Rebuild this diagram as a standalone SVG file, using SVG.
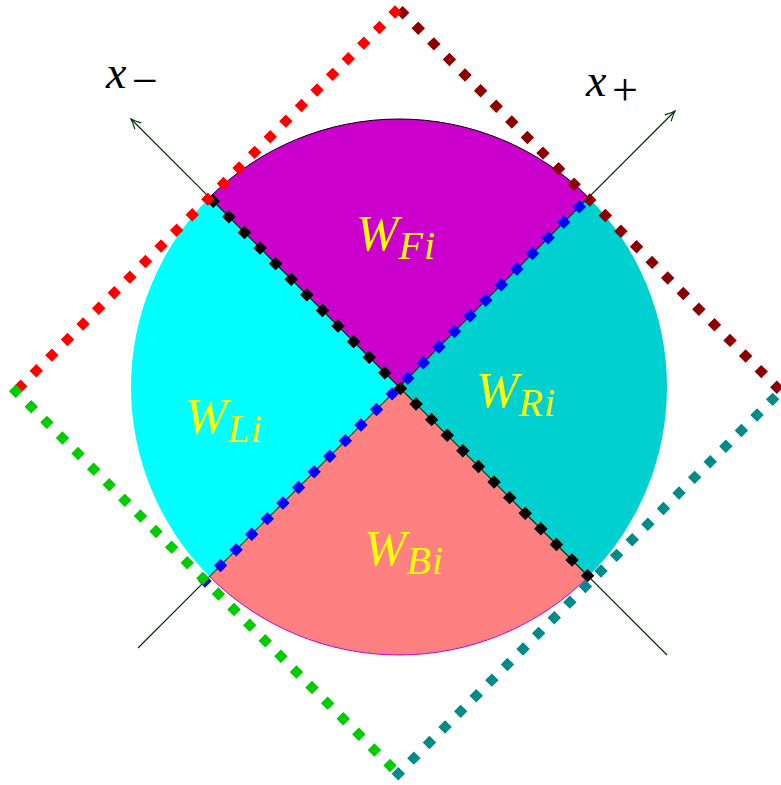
<svg xmlns="http://www.w3.org/2000/svg" width="781" height="785" viewBox="0 0 781 785">
<style>
.lbl{font-family:"Liberation Serif","Times New Roman",serif;font-style:italic;fill:#FFFF00;font-size:51px}
.sub{font-size:40px;letter-spacing:1px}
.ax{font-family:"Liberation Serif","Times New Roman",serif;fill:#000;font-size:46px}
.axis{stroke:#003300;stroke-width:1.2;fill:none;marker-end:url(#arr)}
.dl{fill:none;stroke-width:9.5;stroke-dasharray:9.5 12.56}
</style>
<defs>
<marker id="arr" viewBox="-12 -6 14 12" refX="0" refY="0" markerWidth="14" markerHeight="12" markerUnits="userSpaceOnUse" orient="auto">
<path d="M-10 -4.5 Q-4 -1.2 0 0 Q-4 1.2 -10 4.5" fill="none" stroke="#003300" stroke-width="1.1"/>
</marker>
</defs>
<rect width="781" height="785" fill="#fff"/>
<g id="wedges">
<g id="WF"><path d="M399 387 L209.5 197.5 A268 268 0 0 1 588.5 197.5 Z" fill="#CC00CC"/><path d="M209.5 197.5 A268 268 0 0 1 588.5 197.5" fill="none" stroke="#000" stroke-width="1"/></g>
<g id="WR"><path d="M399 387 L588.5 197.5 A268 268 0 0 1 588.5 576.5 Z" fill="#00D0D0"/></g>
<g id="WB"><path d="M399 387 L588.5 576.5 A268 268 0 0 1 209.5 576.5 Z" fill="#FF8080"/><path d="M588.5 576.5 A268 268 0 0 1 209.5 576.5" fill="none" stroke="#CC00CC" stroke-width="1"/></g>
<g id="WL"><path d="M399 387 L209.5 576.5 A268 268 0 0 1 209.5 197.5 Z" fill="#00FFFF"/></g>
</g>
<g id="connectors">
<line class="axis" x1="138" y1="648" x2="675" y2="111"/>
<line class="axis" x1="667" y1="655" x2="131" y2="119"/>
<path class="dl" stroke="#0000FF" d="M201.6 584.4 L583 203"/>
<path class="dl" stroke="#000" d="M209.9 197.9 L591.3 579.3"/>
<path class="dl" stroke="#8B0000" d="M399.3 9.3 L780.8 391.2"/>
<path class="dl" stroke="#FF0000" d="M398.4 8.6 L15.75 391.25"/>
<path class="dl" stroke="#00CC00" d="M12.3 387.8 L398.25 773.75"/>
<path class="dl" stroke="#008B8B" d="M394.9 777.1 L780.8 391.2"/>
</g>
<g id="labels">
<text class="lbl" x="356" y="250">W<tspan class="sub" dy="9">Fi</tspan></text>
<text class="lbl" x="185" y="433">W<tspan class="sub" dy="9">Li</tspan></text>
<text class="lbl" x="476" y="407">W<tspan class="sub" dy="9">Ri</tspan></text>
<text class="lbl" x="364" y="565">W<tspan class="sub" dy="9">Bi</tspan></text>
<text class="ax" x="106" y="88" font-style="italic">x</text>
<text class="ax" x="132" y="96" font-size="44">−</text>
<text class="ax" x="586" y="96" font-style="italic">x</text>
<text class="ax" x="612" y="105" font-size="44">+</text>
</g>
</svg>
